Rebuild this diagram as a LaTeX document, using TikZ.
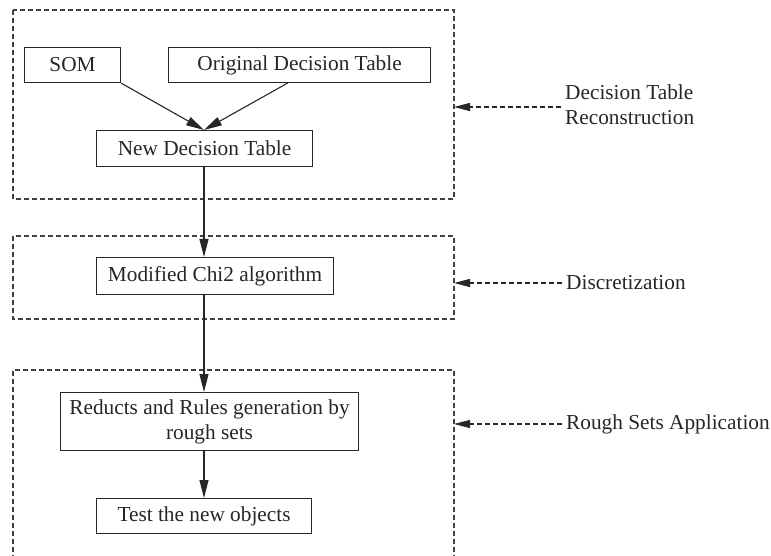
\documentclass[tikz,border=0pt]{standalone}
\usepackage{fontspec}
\setmainfont{Liberation Serif}
\usetikzlibrary{arrows.meta}
\begin{document}
\begin{tikzpicture}[x=1pt,y=-1pt,
  every node/.style={font=\fontsize{21.3}{25}\selectfont,text=black!85},
  proc/.style={draw=black!85,line width=1.1pt,inner sep=0pt,anchor=north west},
  group/.style={draw,line width=1.1pt,dash pattern=on 5pt off 3pt,black!75},
  conn/.style={draw=black!85,line width=1.1pt,-{Triangle[length=18pt,width=9pt]}},
  lab/.style={anchor=west,align=left,inner sep=0pt},
  lconn/.style={draw=black!85,line width=1.1pt,dash pattern=on 5pt off 3pt,-{Triangle[length=16pt,width=8pt]}}]
\useasboundingbox (0,0) rectangle (771,556);
% groups
\draw[group] (13,10) rectangle (454,199);
\draw[group] (13,236) rectangle (454,319);
\draw[group] (13,560) -- (13,370) -- (454,370) -- (454,560);
\coordinate (g1) at (454,107);
\coordinate (g2) at (454,283);
\coordinate (g3) at (454,424);
% boxes
\node[proc,minimum width=96pt,minimum height=35pt] (som) at (24,47) {SOM};
\node[proc,minimum width=262pt,minimum height=35pt] (odt) at (168,47) {Original Decision Table};
\node[proc,minimum width=216pt,minimum height=36pt] (ndt) at (96,130) {New Decision Table};
\node[proc,minimum width=237pt,minimum height=37pt] (chi) at (96,257) {Modified Chi2 algorithm};
\node[proc,minimum width=298pt,minimum height=58pt,align=center] (red) at (60,392) {Reducts and Rules generation by\\rough sets};
\node[proc,minimum width=215pt,minimum height=35pt] (tst) at (96,498) {Test the new objects};
% connectors
\draw[conn] (som.south east) -- (ndt.north -| 204,0);
\draw[conn] (odt.south) ++(-12pt,0) -- (204,130);
\draw[conn] (ndt.south -| 204,0) -- (chi.north -| 204,0);
\draw[conn] (chi.south -| 204,0) -- (red.north -| 204,0);
\draw[conn] (red.south -| 204,0) -- (tst.north -| 204,0);
% labels
\node[lab] (l1) at (565,105) {Decision Table\\Reconstruction};
\node[lab] (l2) at (566,283) {Discretization};
\node[lab] (l3) at (566,424) {Rough Sets Application};
\draw[lconn] (l1.west |- g1) ++(-4pt,0) -- (g1);
\draw[lconn] (l2.west) ++(-4pt,0) -- (g2);
\draw[lconn] (l3.west) ++(-4pt,0) -- (g3);
\end{tikzpicture}
\end{document}
